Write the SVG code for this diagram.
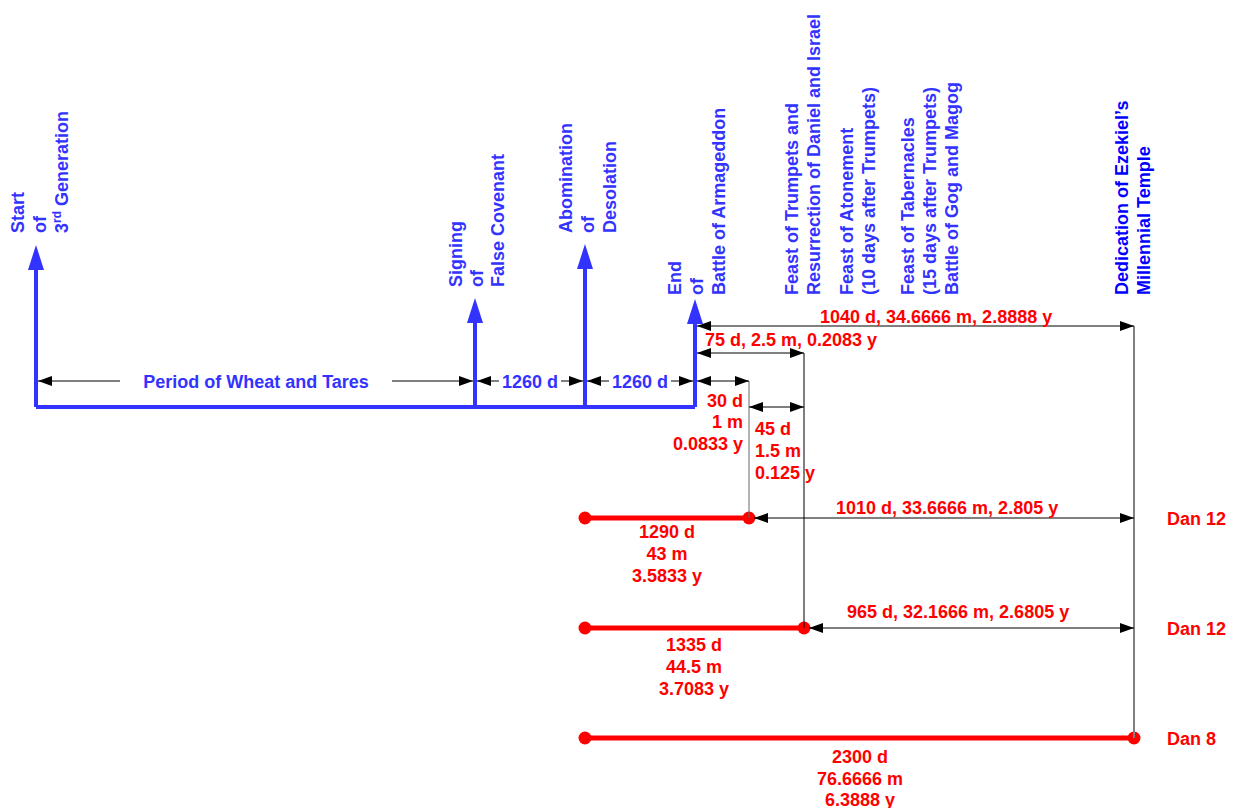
<svg xmlns="http://www.w3.org/2000/svg" width="1235" height="808" viewBox="0 0 1235 808">
<style>
text{font-family:"Liberation Sans",Arial,sans-serif;font-weight:bold;font-size:18px}
.b{fill:#3333ff}
.bd{fill:#0000ff}
.r{fill:#ff0000}
.bl{stroke:#3333ff;stroke-width:4;fill:none}
.bh{fill:#3333ff}
.dim{stroke:#000;stroke-width:1;fill:none}
.gv{stroke:#808080;stroke-width:2;fill:none}
.gv1{stroke:#666;stroke-width:1;fill:none}
.rl{stroke:#ff0000;stroke-width:5;fill:none}
.rd{fill:#ff0000}
</style>
<defs>
<marker id="ah" viewBox="0 0 14 10" refX="14" refY="5" markerWidth="14" markerHeight="10" orient="auto-start-reverse" markerUnits="userSpaceOnUse">
<path d="M0,0 L14,5 L0,10 z" fill="#000"/>
</marker>
</defs>
<rect width="1235" height="808" fill="#fff"/>

<g id="timeline">
<path class="bl" d="M36,407 H695"/>
</g>

<g id="n-start">
<path class="bl" d="M36,407 V266"/>
<polygon class="bh" points="36,245 28,270 44,270"/>
<text class="b" transform="translate(24,233) rotate(-90)"><tspan x="0" y="0">Start</tspan><tspan x="0" dy="22">of</tspan><tspan x="0" dy="22">3<tspan font-size="12" dy="-7">rd</tspan><tspan dy="7"> Generation</tspan></tspan></text>
</g>

<g id="n-signing">
<path class="bl" d="M475,407 V320"/>
<polygon class="bh" points="475,298 467,323 483,323"/>
<text class="b" transform="translate(462,287) rotate(-90)"><tspan x="0" y="0">Signing</tspan><tspan x="0" dy="21">of</tspan><tspan x="0" dy="21">False Covenant</tspan></text>
</g>

<g id="n-abomination">
<path class="bl" d="M585,407 V266"/>
<polygon class="bh" points="585,244 577,269 593,269"/>
<text class="b" transform="translate(572,233) rotate(-90)"><tspan x="0" y="0">Abomination</tspan><tspan x="0" dy="22">of</tspan><tspan x="0" dy="22">Desolation</tspan></text>
</g>

<g id="n-end">
<path class="bl" d="M695,407 V320"/>
<polygon class="bh" points="695,299 687,324 703,324"/>
<text class="b" transform="translate(681,295) rotate(-90)"><tspan x="0" y="0">End</tspan><tspan x="0" dy="22">of</tspan><tspan x="0" dy="22">Battle of Armageddon</tspan></text>
</g>

<g id="n-trumpets">
<text class="b" transform="translate(798,295) rotate(-90)"><tspan x="0" y="0">Feast of Trumpets and</tspan><tspan x="0" dy="22">Resurrection of Daniel and Israel</tspan></text>
</g>

<g id="n-atonement">
<text class="b" transform="translate(853,295) rotate(-90)"><tspan x="0" y="0">Feast of Atonement</tspan><tspan x="0" dy="22">(10 days after Trumpets)</tspan></text>
</g>

<g id="n-tabernacles">
<text class="b" transform="translate(914,295) rotate(-90)"><tspan x="0" y="0">Feast of Tabernacles</tspan><tspan x="0" dy="22">(15 days after Trumpets)</tspan><tspan x="0" dy="22">Battle of Gog and Magog</tspan></text>
</g>

<g id="n-dedication">
<text class="bd" transform="translate(1128,295) rotate(-90)"><tspan x="0" y="0">Dedication of Ezekiel’s</tspan><tspan x="0" dy="22">Millennial Temple</tspan></text>
</g>

<g id="n-1290">
<path class="rl" d="M585,518 H749"/>
<circle class="rd" cx="585" cy="518" r="6.5"/>
<circle class="rd" cx="749" cy="518" r="6.5"/>
<text class="r" text-anchor="middle"><tspan x="667" y="538">1290 d</tspan><tspan x="667" y="560">43 m</tspan><tspan x="667" y="582">3.5833 y</tspan></text>
<text class="r" x="1167" y="525">Dan 12</text>
</g>

<g id="n-1335">
<path class="rl" d="M585,628 H804"/>
<circle class="rd" cx="585" cy="628" r="6.5"/>
<circle class="rd" cx="804" cy="628" r="6.5"/>
<text class="r" text-anchor="middle"><tspan x="694" y="651">1335 d</tspan><tspan x="694" y="673">44.5 m</tspan><tspan x="694" y="695">3.7083 y</tspan></text>
<text class="r" x="1167" y="635">Dan 12</text>
</g>

<g id="n-2300">
<path class="rl" d="M585,738 H1134"/>
<circle class="rd" cx="585" cy="738" r="6.5"/>
<circle class="rd" cx="1134" cy="738" r="6.5"/>
<text class="r" text-anchor="middle"><tspan x="860" y="763">2300 d</tspan><tspan x="860" y="785">76.6666 m</tspan><tspan x="860" y="806">6.3888 y</tspan></text>
<text class="r" x="1167" y="745">Dan 8</text>
</g>

<g id="connectors">
<path class="gv" d="M1134,326 V738"/>
<path class="dim" d="M804,353 V628"/>
<path class="gv1" d="M749,381 V518"/>
<path class="dim" d="M38,381 H120" marker-start="url(#ah)"/>
<path class="dim" d="M392,381 H473" marker-end="url(#ah)"/>
<path class="dim" d="M477,381 H499" marker-start="url(#ah)"/>
<path class="dim" d="M561,381 H583" marker-end="url(#ah)"/>
<path class="dim" d="M587,381 H609" marker-start="url(#ah)"/>
<path class="dim" d="M671,381 H693" marker-end="url(#ah)"/>
<path class="dim" d="M697,381 H749" marker-start="url(#ah)" marker-end="url(#ah)"/>
<path class="dim" d="M697,353 H804" marker-start="url(#ah)" marker-end="url(#ah)"/>
<path class="dim" d="M697,326 H1134" marker-start="url(#ah)" marker-end="url(#ah)"/>
<path class="dim" d="M749,407 H804" marker-start="url(#ah)" marker-end="url(#ah)"/>
<path class="dim" d="M754,518 H1134" marker-start="url(#ah)" marker-end="url(#ah)"/>
<path class="dim" d="M809,628 H1134" marker-start="url(#ah)" marker-end="url(#ah)"/>
<text class="b" text-anchor="middle" x="256" y="388">Period of Wheat and Tares</text>
<text class="b" text-anchor="middle" x="530" y="388">1260 d</text>
<text class="b" text-anchor="middle" x="640" y="388">1260 d</text>
<text class="r" x="820" y="323">1040 d, 34.6666 m, 2.8888 y</text>
<text class="r" x="705" y="346">75 d, 2.5 m, 0.2083 y</text>
<text class="r" text-anchor="end"><tspan x="743" y="407">30 d</tspan><tspan x="743" y="428">1 m</tspan><tspan x="743" y="450">0.0833 y</tspan></text>
<text class="r"><tspan x="755" y="435">45 d</tspan><tspan x="755" y="457">1.5 m</tspan><tspan x="755" y="479">0.125 y</tspan></text>
<text class="r" x="836" y="514">1010 d, 33.6666 m, 2.805 y</text>
<text class="r" x="847" y="618">965 d, 32.1666 m, 2.6805 y</text>
</g>
</svg>
